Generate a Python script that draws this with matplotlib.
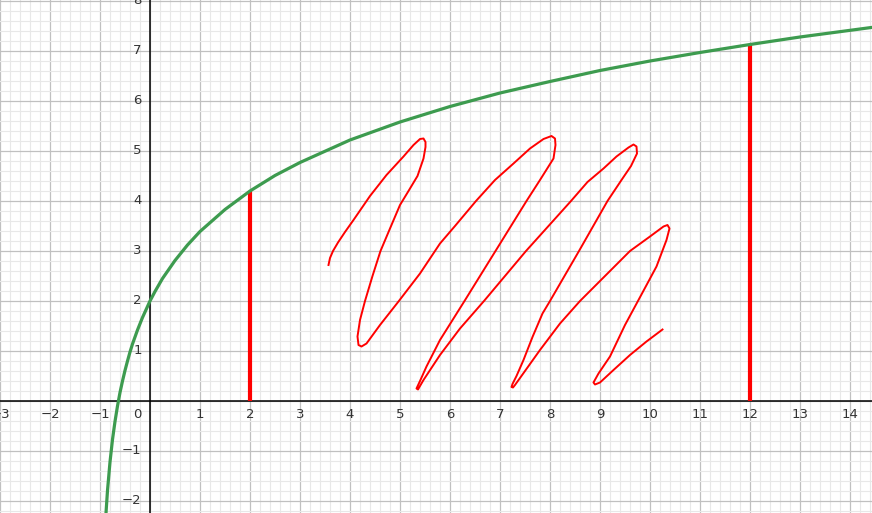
import matplotlib
matplotlib.use("Agg")
import matplotlib.pyplot as plt
from matplotlib.ticker import MultipleLocator

# green curve, points
curve_x = [-0.88, -0.85, -0.8, -0.75, -0.7, -0.65, -0.6, -0.55, -0.5, -0.45, -0.4, -0.35,
           -0.25, -0.15, 0, 0.1, 0.25, 0.5, 0.75, 1, 1.5, 2, 2.5, 3, 4, 5, 6, 7, 8, 9,
           10, 11, 12, 13, 14.5]
curve_y = [-2.24, -1.79, -1.22, -0.77, -0.41, -0.10, 0.17, 0.40, 0.61, 0.80, 0.98, 1.14,
           1.42, 1.67, 2.0, 2.19, 2.45, 2.81, 3.12, 3.39, 3.83, 4.20, 4.51, 4.77, 5.22,
           5.58, 5.89, 6.16, 6.39, 6.61, 6.80, 6.97, 7.13, 7.28, 7.48]

# the two red verticals
bar_x = [2, 12]
bar_top = [4.2, 7.14]

# freehand red scribble
scribble_x = [3.57, 3.6, 3.66, 3.76, 3.9, 4.07, 4.4, 4.73, 5.07, 5.27, 5.4, 5.47, 5.51,
              5.51, 5.47, 5.35, 5.17, 5.0, 4.8, 4.61, 4.45, 4.3, 4.2, 4.15, 4.17, 4.23,
              4.33, 4.6, 4.97, 5.4, 5.8, 6.1, 6.52, 6.9, 7.27, 7.6, 7.87, 8.03, 8.1,
              8.11, 8.07, 7.8, 7.53, 6.91, 6.29, 5.8, 5.53, 5.4, 5.33, 5.36, 5.4, 5.47,
              5.8, 6.2, 6.68, 7.52, 8.42, 8.75, 9.07, 9.33, 9.57, 9.67, 9.73, 9.74, 9.62,
              9.43, 9.15, 8.58, 8.0, 7.85, 7.65, 7.47, 7.33, 7.25, 7.23, 7.26, 7.3, 7.8,
              8.2, 8.6, 9.1, 9.6, 10.0, 10.27, 10.35, 10.39, 10.33, 10.13, 9.84, 9.5,
              9.2, 8.97, 8.87, 8.9, 9.0, 9.27, 9.6, 9.93, 10.25]
scribble_y = [2.72, 2.86, 3.0, 3.17, 3.38, 3.62, 4.1, 4.52, 4.89, 5.12, 5.24, 5.25, 5.18,
              5.08, 4.85, 4.5, 4.2, 3.92, 3.45, 3.0, 2.5, 2.0, 1.62, 1.29, 1.12, 1.09,
              1.15, 1.52, 1.99, 2.55, 3.15, 3.5, 4.0, 4.42, 4.75, 5.05, 5.24, 5.3, 5.25,
              5.12, 4.85, 4.42, 4.0, 3.0, 2.0, 1.22, 0.69, 0.4, 0.25, 0.23, 0.3, 0.42,
              0.92, 1.45, 2.0, 3.0, 4.0, 4.38, 4.65, 4.89, 5.07, 5.13, 5.09, 4.95, 4.7,
              4.42, 4.0, 3.0, 2.0, 1.75, 1.28, 0.82, 0.5, 0.34, 0.28, 0.27, 0.32, 1.02,
              1.55, 2.0, 2.5, 3.0, 3.29, 3.49, 3.52, 3.45, 3.22, 2.69, 2.15, 1.52,
              0.89, 0.55, 0.37, 0.33, 0.37, 0.62, 0.92, 1.19, 1.43]

x_labels = list(range(-3, 15))
y_labels = [-2, -1, 1, 2, 3, 4, 5, 6, 7, 8]

fig = plt.figure(figsize=(8.72, 5.13), dpi=100)
ax = fig.add_axes([0, 0, 1, 1])
ax.set_xlim(-3, 14.44)
ax.set_ylim(-2.24, 8.02)

ax.xaxis.set_major_locator(MultipleLocator(1))
ax.yaxis.set_major_locator(MultipleLocator(1))
ax.xaxis.set_minor_locator(MultipleLocator(0.2))
ax.yaxis.set_minor_locator(MultipleLocator(0.2))
ax.grid(which="minor", color="#e8e8e8", lw=0.8)
ax.grid(which="major", color="#c0c0c0", lw=0.9)
ax.set_axisbelow(True)
ax.tick_params(which="both", length=0, labelbottom=False, labelleft=False)
for s in ax.spines.values():
    s.set_visible(False)

ax.axhline(0, color="black", lw=1.1, zorder=2)
ax.axvline(0, color="black", lw=1.1, zorder=2)

lab = dict(fontsize=9.5, color="#333333", family="DejaVu Sans")
for v in x_labels:
    if v == 0:
        continue
    ax.annotate(f"{v}".replace("-", "\u2212"), (v, 0), xytext=(0, -5),
                textcoords="offset points", ha="center", va="top", **lab)
for v in y_labels:
    ax.annotate(f"{v}".replace("-", "\u2212"), (0, v), xytext=(-6, 0),
                textcoords="offset points", ha="right", va="center", **lab)
ax.annotate("0", (0, 0), xytext=(-6, -5), textcoords="offset points",
            ha="right", va="top", **lab)

ax.vlines(bar_x, 0, bar_top, colors="#ff0000", lw=3.0, zorder=3)
ax.plot(scribble_x, scribble_y, color="#ff0000", lw=1.4, zorder=3,
        solid_joinstyle="round")
ax.plot(curve_x, curve_y, color="#3d9b4f", lw=2.3, zorder=4,
        solid_joinstyle="round")

fig.savefig("out.png", dpi=100)
